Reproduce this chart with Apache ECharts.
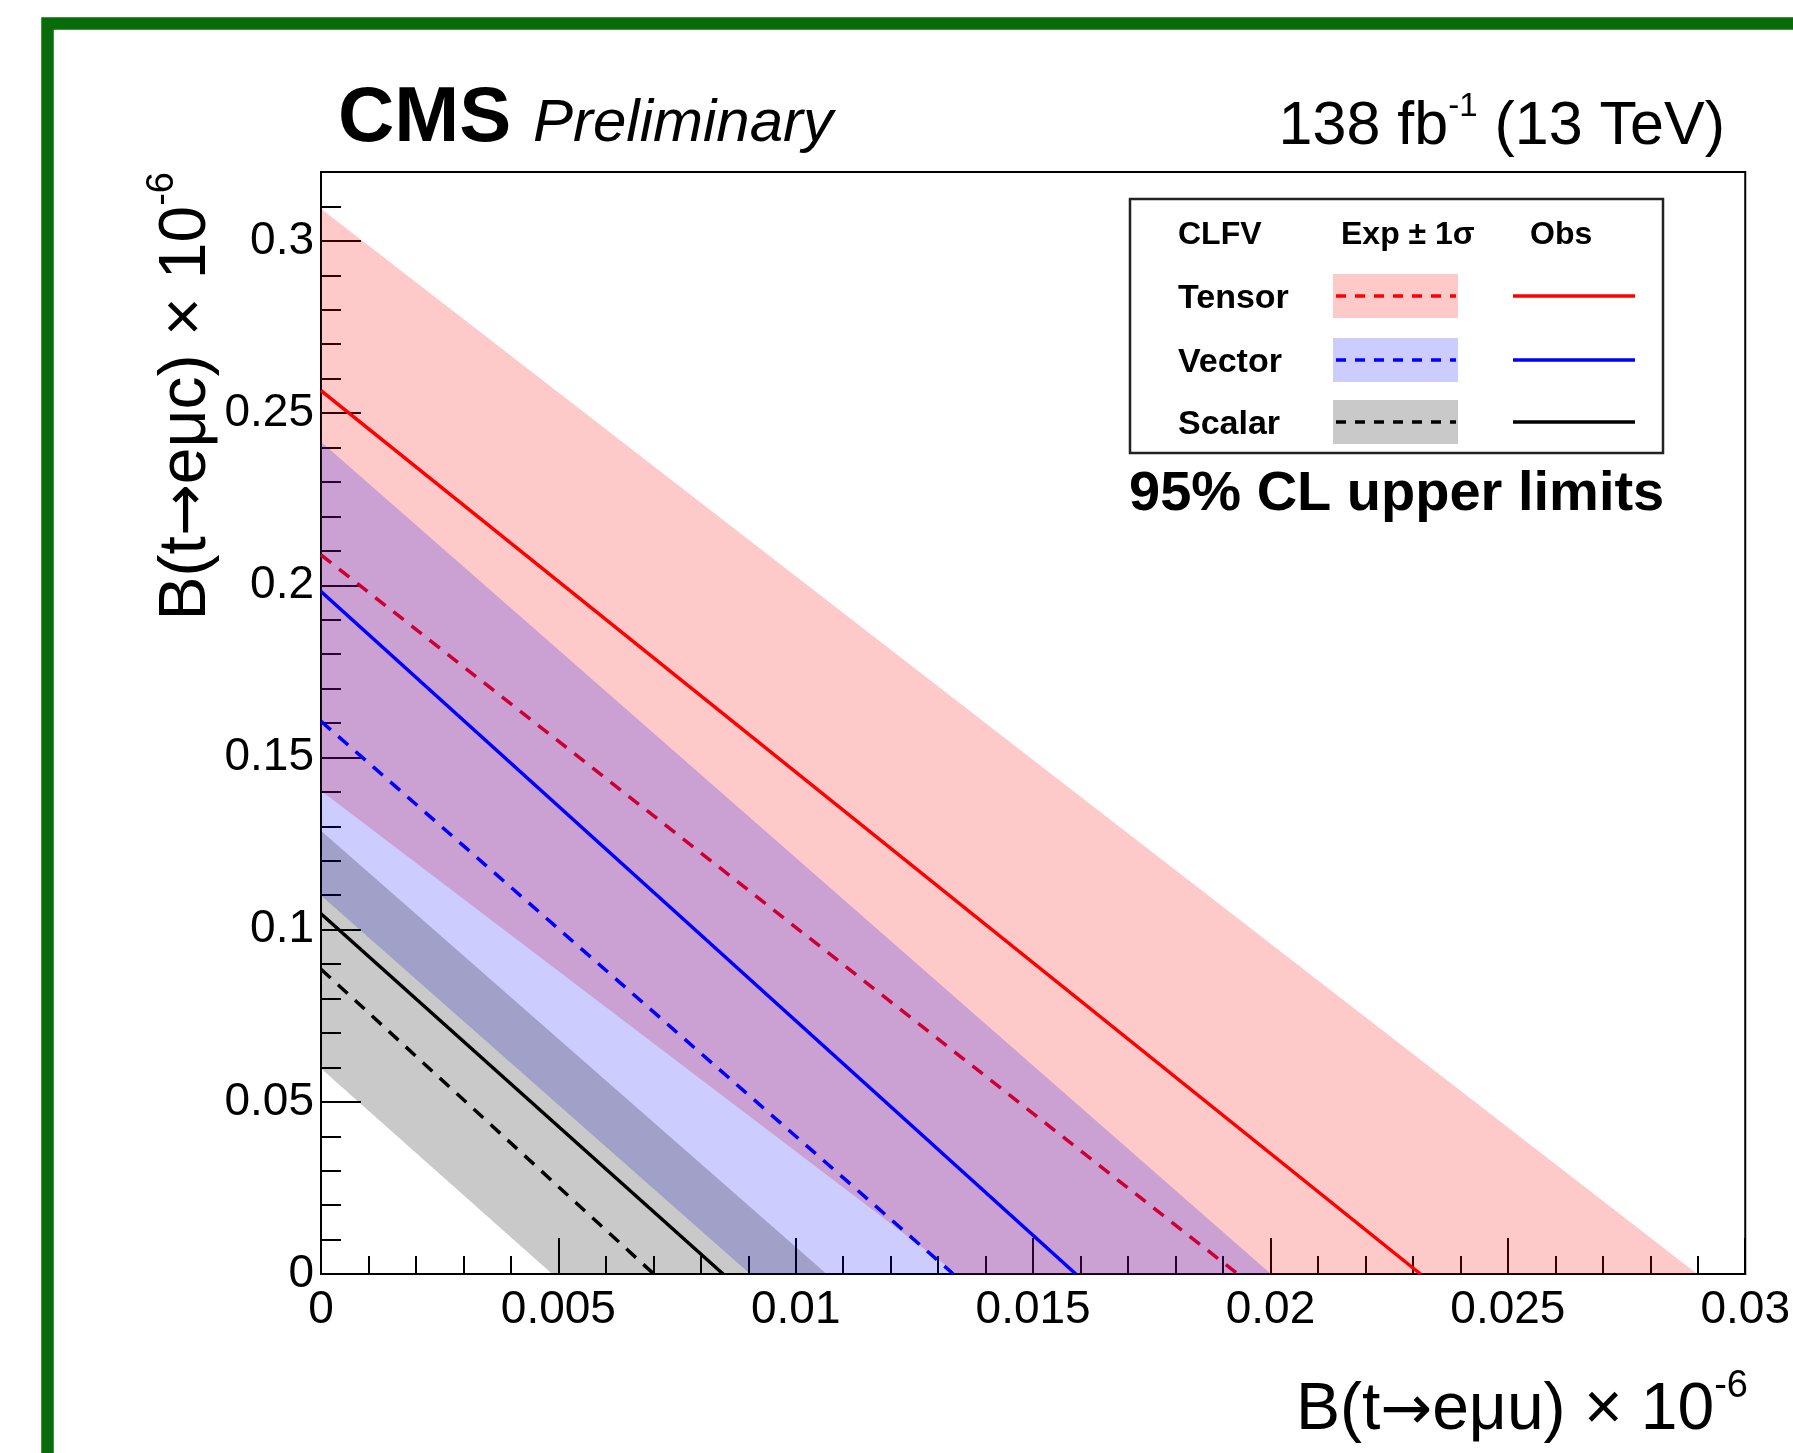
<!DOCTYPE html>
<html>
<head>
<meta charset="utf-8">
<script src="https://cdn.jsdelivr.net/npm/echarts@6/dist/echarts.min.js"></script>
<style>
html,body{margin:0;padding:0;background:#fff;}
#chart{width:1793px;height:1453px;}
</style>
</head>
<body>
<div id="chart"></div>
<script>
// ---- data ----
const models = ['Tensor', 'Vector', 'Scalar'];
// observed limit line: intercepts on y (B(t->emuc)) and x (B(t->emuu)) axes, x 10^-6
const obsYIntercept = [0.2565, 0.1982, 0.1046];
const obsXIntercept = [0.02316, 0.01590, 0.00847];
// expected limit line
const expYIntercept = [0.2088, 0.1605, 0.0885];
const expXIntercept = [0.01931, 0.01332, 0.00701];
// expected +-1 sigma band edges
const bandLowY  = [0.1403, 0.1099, 0.0597];
const bandHighY = [0.3093, 0.2417, 0.1287];
const bandLowX  = [0.01340, 0.00904, 0.00487];
const bandHighX = [0.02899, 0.02001, 0.01065];
// axis ranges / ticks
const xMax = 0.03, xMajor = 0.005;
const yMax = 0.32, yMajor = 0.05, yMinor = 0.01;

const lineColors = ['#ff0000', '#0000ff', '#000000'];
const bandColors = ['rgba(250,0,0,0.21)', 'rgba(0,0,255,0.2)', 'rgba(0,0,0,0.21)'];
const FONT = '"Liberation Sans", Arial, Helvetica, sans-serif';
const ARROWFONT = '"DejaVu Sans", sans-serif';

const chart = echarts.init(document.getElementById('chart'), null, {renderer: 'canvas'});

const series = [];
models.forEach((m, i) => {
  series.push({
    type: 'custom', name: m + ' band', xAxisIndex: 0, yAxisIndex: 0, clip: true, z: 2 + i * 3,
    data: [[bandLowY[i], bandHighY[i], bandLowX[i], bandHighX[i]]],
    encode: {x: 2, y: 0},
    renderItem: (params, api) => ({
      type: 'polygon',
      shape: {points: [
        api.coord([0, api.value(0)]),
        api.coord([0, api.value(1)]),
        api.coord([api.value(3), 0]),
        api.coord([api.value(2), 0])
      ]},
      style: {fill: bandColors[i], stroke: null}
    })
  });
  series.push({
    type: 'line', name: m + ' exp', xAxisIndex: 0, yAxisIndex: 0, z: 3 + i * 3,
    data: [[0, expYIntercept[i]], [expXIntercept[i], 0]],
    symbol: 'none', silent: true,
    lineStyle: {color: lineColors[i], width: 3.5, type: [13, 10]}
  });
  series.push({
    type: 'line', name: m + ' obs', xAxisIndex: 0, yAxisIndex: 0, z: 4 + i * 3,
    data: [[0, obsYIntercept[i]], [obsXIntercept[i], 0]],
    symbol: 'none', silent: true,
    lineStyle: {color: lineColors[i], width: 3.5, type: 'solid'}
  });
});

// legend graphics
const LX = 1130, LY = 199, LW = 533, LH = 254;
const rowY = [296, 360, 422];
const legend = [];
legend.push({type: 'rect', shape: {x: LX, y: LY, width: LW, height: LH},
  style: {fill: '#fff', stroke: '#222', lineWidth: 2.5}, z: 50});
legend.push({type: 'text', x: 1178, y: 235, z: 51,
  style: {text: 'CLFV', font: 'bold 32px ' + FONT, fill: '#000', align: 'left', verticalAlign: 'middle'}});
legend.push({type: 'text', x: 1341, y: 235, z: 51,
  style: {text: 'Exp ± 1σ', font: 'bold 32px ' + FONT, fill: '#000', align: 'left', verticalAlign: 'middle'}});
legend.push({type: 'text', x: 1530, y: 235, z: 51,
  style: {text: 'Obs', font: 'bold 32px ' + FONT, fill: '#000', align: 'left', verticalAlign: 'middle'}});
models.forEach((m, i) => {
  const cy = rowY[i];
  legend.push({type: 'text', x: 1178, y: cy + 3, z: 51,
    style: {text: m, font: 'bold 34px ' + FONT, fill: '#000', align: 'left', verticalAlign: 'middle'}});
  legend.push({type: 'rect', shape: {x: 1333, y: cy - 22, width: 125, height: 44}, z: 51,
    style: {fill: bandColors[i]}});
  legend.push({type: 'line', shape: {x1: 1336, y1: cy, x2: 1456, y2: cy}, z: 52,
    style: {stroke: lineColors[i], lineWidth: 3.5, lineDash: [10, 9]}});
  legend.push({type: 'line', shape: {x1: 1513, y1: cy, x2: 1635, y2: cy}, z: 52,
    style: {stroke: lineColors[i], lineWidth: 3.5}});
});
legend.push({type: 'text', x: 1129, y: 495, z: 51,
  style: {text: '95% CL upper limits', font: 'bold 56px ' + FONT, fill: '#000', align: 'left', verticalAlign: 'middle'}});

const axisTitleRich = {
  n: {font: '66px ' + FONT, fill: '#000', lineHeight: 76, verticalAlign: 'bottom'},
  a: {font: '62px ' + ARROWFONT, fill: '#000', lineHeight: 76, verticalAlign: 'bottom'},
  s: {font: '38px ' + FONT, fill: '#000', lineHeight: 76, verticalAlign: 'top'}
};

const titles = [
  {type: 'text', x: 338, y: 119, z: 60,
    style: {text: 'CMS', font: 'bold 78px ' + FONT, fill: '#000', align: 'left', verticalAlign: 'middle'}},
  {type: 'text', x: 533, y: 124, z: 60,
    style: {text: 'Preliminary', font: 'italic 60px ' + FONT, fill: '#000', align: 'left', verticalAlign: 'middle'}},
  {type: 'text', x: 1725, y: 124, z: 60,
    style: {text: '{n|138 fb}{s|-1}{n| (13 TeV)}', align: 'right', verticalAlign: 'middle',
      rich: {n: {font: '61px ' + FONT, fill: '#000', lineHeight: 68, verticalAlign: 'bottom'},
             s: {font: '33px ' + FONT, fill: '#000', lineHeight: 68, verticalAlign: 'top'}}}},
  {type: 'text', x: 1748, y: 1406, z: 60,
    style: {text: '{n|B(t}{a|→}{n|eμu) × 10}{s|-6}', align: 'right', verticalAlign: 'middle',
      rich: axisTitleRich}},
  {type: 'text', x: 182, y: 172, rotation: Math.PI / 2, z: 60,
    style: {text: '{n|B(t}{a|→}{n|eμc) × 10}{s|-6}', align: 'right', verticalAlign: 'middle',
      rich: axisTitleRich}},
  // green outer frame
  {type: 'rect', shape: {x: 47.5, y: 23.5, width: 1800, height: 1500}, z: 70,
    style: {fill: null, stroke: '#086d08', lineWidth: 12.5}}
];

const fmt = v => String(parseFloat(v.toFixed(4)));

chart.setOption({
  animation: false,
  backgroundColor: '#fff',
  grid: {left: 321, top: 172, width: 1427, height: 1102, show: true,
    borderColor: '#000', borderWidth: 2, backgroundColor: 'transparent', containLabel: false},
  xAxis: [{
    type: 'value', min: 0, max: xMax, interval: xMajor,
    axisLine: {show: true, onZero: false, lineStyle: {color: '#000', width: 2}},
    axisTick: {show: true, inside: true, length: 36, lineStyle: {color: '#000', width: 2}},
    minorTick: {show: true, splitNumber: 5, length: 18, lineStyle: {color: '#000', width: 2}},
    splitLine: {show: false},
    axisLabel: {color: '#000', fontSize: 46, fontFamily: FONT, margin: 13, formatter: fmt}
  }],
  yAxis: [{
    type: 'value', min: 0, max: yMax, interval: yMajor, position: 'left',
    axisLine: {show: true, onZero: false, lineStyle: {color: '#000', width: 2}},
    axisTick: {show: true, inside: true, length: 40, lineStyle: {color: '#000', width: 2}},
    splitLine: {show: false},
    axisLabel: {color: '#000', fontSize: 46, fontFamily: FONT, margin: 7,
      formatter: v => (v > 0.305 ? '' : fmt(v))}
  }, {
    type: 'value', min: 0, max: yMax, interval: yMinor, position: 'left', offset: 0,
    axisLine: {show: false},
    axisTick: {show: true, inside: true, length: 20, lineStyle: {color: '#000', width: 2}},
    splitLine: {show: false},
    axisLabel: {show: false}
  }],
  series: series,
  graphic: legend.concat(titles)
});
</script>
</body>
</html>
